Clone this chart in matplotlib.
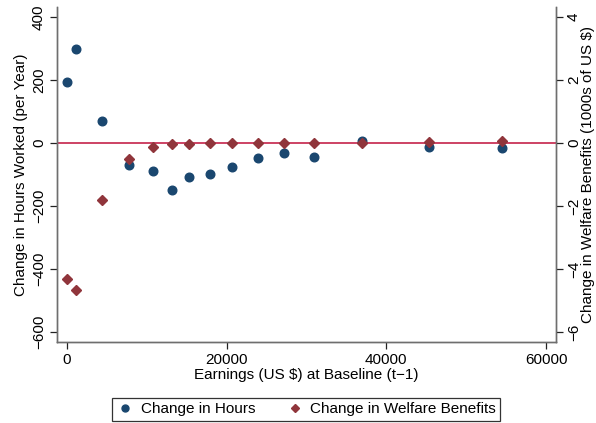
import matplotlib
matplotlib.use("Agg")
import matplotlib.pyplot as plt
from matplotlib.lines import Line2D

plt.rcParams['font.family'] = ['Liberation Sans', 'DejaVu Sans']

earnings = [0, 1090, 4410, 7750, 10750, 13160, 15290, 17875, 20710, 23910,
            27125, 31000, 36910, 45340, 54500]
hours = [194, 300, 69, -69, -89, -149, -109, -98, -76, -49,
         -33, -43, 7, -12, -15]
welfare = [-4.33, -4.67, -1.82, -0.52, -0.12, -0.04, -0.04, 0.0, 0.0, -0.01,
           0.0, 0.0, 0.0, 0.02, 0.05]

xticks = [0, 20000, 40000, 60000]
lticks = [-600, -400, -200, 0, 200, 400]
rticks = [-6, -4, -2, 0, 2, 4]

blue = '#1a476f'
red = '#90353b'
axis_gray = '#6e6e6e'
fs = 11

fig = plt.figure(figsize=(5.96, 4.23), dpi=100)
ax = fig.add_axes([57/596, 1-342/423, (556-57)/596, (342-7)/423])
ax2 = ax.twinx()

ylo, yhi = -632, 432
ax.set_ylim(ylo, yhi)
ax2.set_ylim(ylo/100, yhi/100)
ax.set_xlim(-1250, 61250)

ax.axhline(0, color='#c0103a', lw=1.1, zorder=1)
ax.plot(earnings, hours, 'o', color=blue, markersize=6.2, zorder=3)
ax2.plot(earnings, welfare, 'D', color=red, markersize=4.8, zorder=3)

for a in (ax, ax2):
    a.spines['top'].set_visible(False)
    for s in ('left', 'right', 'bottom'):
        a.spines[s].set_color(axis_gray)
        a.spines[s].set_linewidth(1.0)

ax.set_xticks(xticks)
ax.set_xticklabels([str(v) for v in xticks])
ax.set_yticks(lticks)
ax.set_yticklabels([str(v).replace('-', '\u2212') for v in lticks], rotation=90, va='center')
ax2.set_yticks(rticks)
ax2.set_yticklabels([str(v).replace('-', '\u2212') for v in rticks], rotation=90, va='center')
for a in (ax, ax2):
    a.tick_params(axis='both', length=5, width=0.9, color='#222222', labelsize=fs, pad=3)

ax.set_xlabel('Earnings (US $) at Baseline (t\u22121)', fontsize=fs, labelpad=1)
ax.set_ylabel('Change in Hours Worked (per Year)', fontsize=fs, labelpad=3)
ax2.set_ylabel('Change in Welfare Benefits (1000s of US $)', fontsize=fs,
               rotation=90, labelpad=0)

handles = [Line2D([], [], marker='o', ls='none', color=blue, markersize=5),
           Line2D([], [], marker='D', ls='none', color=red, markersize=4)]
leg = fig.legend(handles, ['Change in Hours', 'Change in Welfare Benefits'],
                 loc='lower center', bbox_to_anchor=(306/596, 2/423), ncol=2,
                 frameon=True, fancybox=False, edgecolor='black', fontsize=fs,
                 handletextpad=0.4, columnspacing=2.0, handlelength=1.2,
                 borderpad=0.3, borderaxespad=0.0)
leg.get_frame().set_linewidth(0.9)

fig.savefig('out.png', dpi=100)
